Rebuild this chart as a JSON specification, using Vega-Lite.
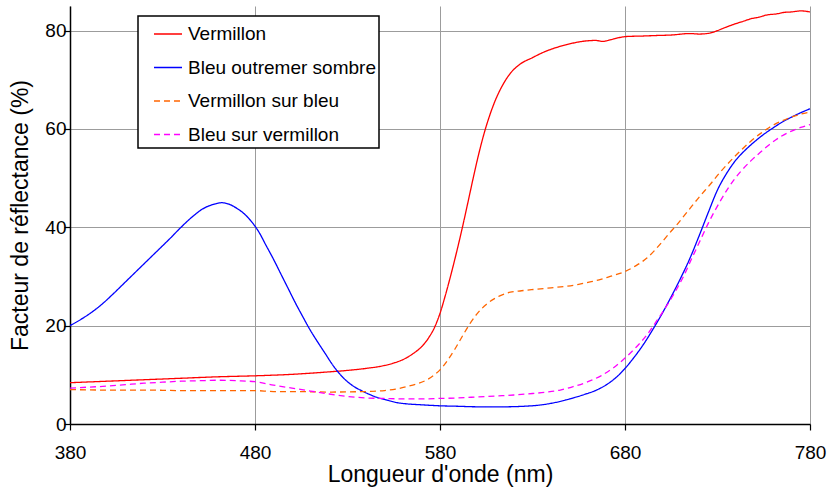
{
  "$schema": "https://vega.github.io/schema/vega-lite/v6.json",
  "width": 740,
  "height": 418,
  "autosize": {"type": "none"},
  "padding": {"left": 70, "top": 6, "right": 19, "bottom": 64},
  "background": "white",
  "config": {
    "view": {"stroke": null},
    "font": "Liberation Sans",
    "axis": {
      "labelFont": "Liberation Sans",
      "labelFontSize": 19,
      "labelColor": "black",
      "labelFlush": false,
      "titleFont": "Liberation Sans",
      "titleFontSize": 23,
      "titleFontWeight": "normal",
      "titleColor": "black",
      "domainColor": "black",
      "domainWidth": 1.5,
      "tickColor": "black",
      "tickWidth": 1.2,
      "tickSize": 6,
      "gridColor": "#9c9c9c",
      "gridWidth": 1,
      "gridOpacity": 1
    },
    "legend": {
      "orient": "none",
      "legendX": 68,
      "legendY": 10,
      "padding": 3,
      "symbolOffset": 12,
      "strokeColor": "black",
      "strokeWidth": 1.5,
      "fillColor": "white",
      "symbolType": "stroke",
      "symbolSize": 784,
      "symbolStrokeWidth": 1.5,
      "labelFont": "Liberation Sans",
      "labelFontSize": 19,
      "labelColor": "black",
      "labelLimit": 400,
      "labelOffset": 5,
      "rowPadding": 8.5
    }
  },
  "data": {
    "values": [
      {"serie":"Vermillon","lambda":380,"r":8.4},{"serie":"Vermillon","lambda":400,"r":8.7},{"serie":"Vermillon","lambda":420,"r":9.0},{"serie":"Vermillon","lambda":440,"r":9.3},{"serie":"Vermillon","lambda":460,"r":9.6},{"serie":"Vermillon","lambda":480,"r":9.8},{"serie":"Vermillon","lambda":500,"r":10.1},{"serie":"Vermillon","lambda":520,"r":10.6},{"serie":"Vermillon","lambda":530,"r":10.9},{"serie":"Vermillon","lambda":540,"r":11.3},{"serie":"Vermillon","lambda":550,"r":11.9},{"serie":"Vermillon","lambda":555,"r":12.4},{"serie":"Vermillon","lambda":560,"r":13.1},{"serie":"Vermillon","lambda":565,"r":14.2},{"serie":"Vermillon","lambda":570,"r":15.7},{"serie":"Vermillon","lambda":574,"r":17.6},{"serie":"Vermillon","lambda":577,"r":19.6},{"serie":"Vermillon","lambda":580,"r":22.5},{"serie":"Vermillon","lambda":583,"r":26.3},{"serie":"Vermillon","lambda":586,"r":30.5},{"serie":"Vermillon","lambda":589,"r":35.0},{"serie":"Vermillon","lambda":592,"r":39.8},{"serie":"Vermillon","lambda":595,"r":44.9},{"serie":"Vermillon","lambda":598,"r":50.1},{"serie":"Vermillon","lambda":601,"r":55.0},{"serie":"Vermillon","lambda":604,"r":59.3},{"serie":"Vermillon","lambda":607,"r":62.9},{"serie":"Vermillon","lambda":610,"r":65.9},{"serie":"Vermillon","lambda":614,"r":69.0},{"serie":"Vermillon","lambda":618,"r":71.3},{"serie":"Vermillon","lambda":623,"r":73.1},{"serie":"Vermillon","lambda":630,"r":74.5},{"serie":"Vermillon","lambda":636,"r":75.6},{"serie":"Vermillon","lambda":648,"r":77.1},{"serie":"Vermillon","lambda":659,"r":77.9},{"serie":"Vermillon","lambda":664,"r":78.0},{"serie":"Vermillon","lambda":668,"r":77.8},{"serie":"Vermillon","lambda":672,"r":78.1},{"serie":"Vermillon","lambda":676,"r":78.5},{"serie":"Vermillon","lambda":681,"r":78.8},{"serie":"Vermillon","lambda":690,"r":78.9},{"serie":"Vermillon","lambda":697,"r":79.0},{"serie":"Vermillon","lambda":705,"r":79.1},{"serie":"Vermillon","lambda":715,"r":79.4},{"serie":"Vermillon","lambda":720,"r":79.3},{"serie":"Vermillon","lambda":726,"r":79.5},{"serie":"Vermillon","lambda":730,"r":80.0},{"serie":"Vermillon","lambda":734,"r":80.6},{"serie":"Vermillon","lambda":739,"r":81.3},{"serie":"Vermillon","lambda":744,"r":81.9},{"serie":"Vermillon","lambda":748,"r":82.4},{"serie":"Vermillon","lambda":752,"r":82.7},{"serie":"Vermillon","lambda":757,"r":83.2},{"serie":"Vermillon","lambda":762,"r":83.4},{"serie":"Vermillon","lambda":766,"r":83.7},{"serie":"Vermillon","lambda":770,"r":83.8},{"serie":"Vermillon","lambda":775,"r":84.0},{"serie":"Vermillon","lambda":780,"r":83.8},
      {"serie":"Bleu outremer sombre","lambda":380,"r":20.0},{"serie":"Bleu outremer sombre","lambda":386,"r":21.3},{"serie":"Bleu outremer sombre","lambda":392,"r":22.8},{"serie":"Bleu outremer sombre","lambda":398,"r":24.6},{"serie":"Bleu outremer sombre","lambda":404,"r":26.7},{"serie":"Bleu outremer sombre","lambda":410,"r":28.9},{"serie":"Bleu outremer sombre","lambda":416,"r":31.1},{"serie":"Bleu outremer sombre","lambda":422,"r":33.3},{"serie":"Bleu outremer sombre","lambda":428,"r":35.5},{"serie":"Bleu outremer sombre","lambda":434,"r":37.7},{"serie":"Bleu outremer sombre","lambda":440,"r":40.0},{"serie":"Bleu outremer sombre","lambda":446,"r":42.1},{"serie":"Bleu outremer sombre","lambda":452,"r":43.8},{"serie":"Bleu outremer sombre","lambda":457,"r":44.6},{"serie":"Bleu outremer sombre","lambda":462,"r":45.0},{"serie":"Bleu outremer sombre","lambda":466,"r":44.7},{"serie":"Bleu outremer sombre","lambda":470,"r":43.9},{"serie":"Bleu outremer sombre","lambda":474,"r":42.8},{"serie":"Bleu outremer sombre","lambda":478,"r":41.2},{"serie":"Bleu outremer sombre","lambda":482,"r":39.1},{"serie":"Bleu outremer sombre","lambda":486,"r":36.3},{"serie":"Bleu outremer sombre","lambda":490,"r":33.5},{"serie":"Bleu outremer sombre","lambda":494,"r":30.5},{"serie":"Bleu outremer sombre","lambda":498,"r":27.5},{"serie":"Bleu outremer sombre","lambda":502,"r":24.5},{"serie":"Bleu outremer sombre","lambda":506,"r":21.7},{"serie":"Bleu outremer sombre","lambda":510,"r":19.0},{"serie":"Bleu outremer sombre","lambda":514,"r":16.6},{"serie":"Bleu outremer sombre","lambda":518,"r":14.3},{"serie":"Bleu outremer sombre","lambda":522,"r":12.0},{"serie":"Bleu outremer sombre","lambda":526,"r":10.1},{"serie":"Bleu outremer sombre","lambda":530,"r":8.6},{"serie":"Bleu outremer sombre","lambda":534,"r":7.5},{"serie":"Bleu outremer sombre","lambda":538,"r":6.7},{"serie":"Bleu outremer sombre","lambda":542,"r":6.0},{"serie":"Bleu outremer sombre","lambda":546,"r":5.4},{"serie":"Bleu outremer sombre","lambda":550,"r":5.0},{"serie":"Bleu outremer sombre","lambda":556,"r":4.4},{"serie":"Bleu outremer sombre","lambda":562,"r":4.1},{"serie":"Bleu outremer sombre","lambda":570,"r":3.9},{"serie":"Bleu outremer sombre","lambda":580,"r":3.7},{"serie":"Bleu outremer sombre","lambda":590,"r":3.6},{"serie":"Bleu outremer sombre","lambda":600,"r":3.5},{"serie":"Bleu outremer sombre","lambda":615,"r":3.5},{"serie":"Bleu outremer sombre","lambda":625,"r":3.6},{"serie":"Bleu outremer sombre","lambda":635,"r":3.9},{"serie":"Bleu outremer sombre","lambda":645,"r":4.6},{"serie":"Bleu outremer sombre","lambda":652,"r":5.3},{"serie":"Bleu outremer sombre","lambda":658,"r":6.0},{"serie":"Bleu outremer sombre","lambda":664,"r":6.8},{"serie":"Bleu outremer sombre","lambda":670,"r":8.0},{"serie":"Bleu outremer sombre","lambda":675,"r":9.4},{"serie":"Bleu outremer sombre","lambda":680,"r":11.3},{"serie":"Bleu outremer sombre","lambda":685,"r":13.6},{"serie":"Bleu outremer sombre","lambda":690,"r":16.2},{"serie":"Bleu outremer sombre","lambda":695,"r":19.2},{"serie":"Bleu outremer sombre","lambda":700,"r":22.4},{"serie":"Bleu outremer sombre","lambda":705,"r":25.9},{"serie":"Bleu outremer sombre","lambda":710,"r":29.6},{"serie":"Bleu outremer sombre","lambda":715,"r":33.6},{"serie":"Bleu outremer sombre","lambda":720,"r":38.2},{"serie":"Bleu outremer sombre","lambda":725,"r":43.0},{"serie":"Bleu outremer sombre","lambda":730,"r":47.6},{"serie":"Bleu outremer sombre","lambda":735,"r":51.0},{"serie":"Bleu outremer sombre","lambda":740,"r":53.7},{"serie":"Bleu outremer sombre","lambda":745,"r":55.7},{"serie":"Bleu outremer sombre","lambda":750,"r":57.4},{"serie":"Bleu outremer sombre","lambda":755,"r":58.9},{"serie":"Bleu outremer sombre","lambda":760,"r":60.2},{"serie":"Bleu outremer sombre","lambda":765,"r":61.4},{"serie":"Bleu outremer sombre","lambda":770,"r":62.4},{"serie":"Bleu outremer sombre","lambda":775,"r":63.3},{"serie":"Bleu outremer sombre","lambda":780,"r":64.1},
      {"serie":"Vermillon sur bleu","lambda":380,"r":7.0},{"serie":"Vermillon sur bleu","lambda":400,"r":6.9},{"serie":"Vermillon sur bleu","lambda":420,"r":6.9},{"serie":"Vermillon sur bleu","lambda":440,"r":6.8},{"serie":"Vermillon sur bleu","lambda":460,"r":6.8},{"serie":"Vermillon sur bleu","lambda":480,"r":6.8},{"serie":"Vermillon sur bleu","lambda":490,"r":6.6},{"serie":"Vermillon sur bleu","lambda":500,"r":6.6},{"serie":"Vermillon sur bleu","lambda":520,"r":6.5},{"serie":"Vermillon sur bleu","lambda":540,"r":6.6},{"serie":"Vermillon sur bleu","lambda":550,"r":6.8},{"serie":"Vermillon sur bleu","lambda":556,"r":7.1},{"serie":"Vermillon sur bleu","lambda":562,"r":7.6},{"serie":"Vermillon sur bleu","lambda":568,"r":8.2},{"serie":"Vermillon sur bleu","lambda":573,"r":9.0},{"serie":"Vermillon sur bleu","lambda":577,"r":10.0},{"serie":"Vermillon sur bleu","lambda":580,"r":11.0},{"serie":"Vermillon sur bleu","lambda":584,"r":12.9},{"serie":"Vermillon sur bleu","lambda":588,"r":15.2},{"serie":"Vermillon sur bleu","lambda":592,"r":17.8},{"serie":"Vermillon sur bleu","lambda":596,"r":20.3},{"serie":"Vermillon sur bleu","lambda":600,"r":22.4},{"serie":"Vermillon sur bleu","lambda":605,"r":24.3},{"serie":"Vermillon sur bleu","lambda":612,"r":26.0},{"serie":"Vermillon sur bleu","lambda":618,"r":26.8},{"serie":"Vermillon sur bleu","lambda":624,"r":27.1},{"serie":"Vermillon sur bleu","lambda":632,"r":27.4},{"serie":"Vermillon sur bleu","lambda":640,"r":27.7},{"serie":"Vermillon sur bleu","lambda":648,"r":28.0},{"serie":"Vermillon sur bleu","lambda":655,"r":28.4},{"serie":"Vermillon sur bleu","lambda":660,"r":28.8},{"serie":"Vermillon sur bleu","lambda":666,"r":29.3},{"serie":"Vermillon sur bleu","lambda":672,"r":30.0},{"serie":"Vermillon sur bleu","lambda":680,"r":31.0},{"serie":"Vermillon sur bleu","lambda":686,"r":32.2},{"serie":"Vermillon sur bleu","lambda":692,"r":33.8},{"serie":"Vermillon sur bleu","lambda":696,"r":35.3},{"serie":"Vermillon sur bleu","lambda":700,"r":37.0},{"serie":"Vermillon sur bleu","lambda":704,"r":38.8},{"serie":"Vermillon sur bleu","lambda":708,"r":40.5},{"serie":"Vermillon sur bleu","lambda":714,"r":43.3},{"serie":"Vermillon sur bleu","lambda":720,"r":46.1},{"serie":"Vermillon sur bleu","lambda":726,"r":48.7},{"serie":"Vermillon sur bleu","lambda":731,"r":51.0},{"serie":"Vermillon sur bleu","lambda":737,"r":53.5},{"serie":"Vermillon sur bleu","lambda":742,"r":55.4},{"serie":"Vermillon sur bleu","lambda":748,"r":57.5},{"serie":"Vermillon sur bleu","lambda":753,"r":59.0},{"serie":"Vermillon sur bleu","lambda":758,"r":60.3},{"serie":"Vermillon sur bleu","lambda":764,"r":61.5},{"serie":"Vermillon sur bleu","lambda":770,"r":62.4},{"serie":"Vermillon sur bleu","lambda":775,"r":63.0},{"serie":"Vermillon sur bleu","lambda":780,"r":63.4},
      {"serie":"Bleu sur vermillon","lambda":380,"r":7.3},{"serie":"Bleu sur vermillon","lambda":390,"r":7.5},{"serie":"Bleu sur vermillon","lambda":400,"r":7.7},{"serie":"Bleu sur vermillon","lambda":410,"r":8.0},{"serie":"Bleu sur vermillon","lambda":420,"r":8.3},{"serie":"Bleu sur vermillon","lambda":430,"r":8.5},{"serie":"Bleu sur vermillon","lambda":440,"r":8.7},{"serie":"Bleu sur vermillon","lambda":450,"r":8.8},{"serie":"Bleu sur vermillon","lambda":460,"r":8.9},{"serie":"Bleu sur vermillon","lambda":470,"r":8.8},{"serie":"Bleu sur vermillon","lambda":480,"r":8.6},{"serie":"Bleu sur vermillon","lambda":490,"r":7.9},{"serie":"Bleu sur vermillon","lambda":500,"r":7.3},{"serie":"Bleu sur vermillon","lambda":510,"r":6.7},{"serie":"Bleu sur vermillon","lambda":520,"r":6.1},{"serie":"Bleu sur vermillon","lambda":530,"r":5.6},{"serie":"Bleu sur vermillon","lambda":540,"r":5.3},{"serie":"Bleu sur vermillon","lambda":550,"r":5.2},{"serie":"Bleu sur vermillon","lambda":560,"r":5.1},{"serie":"Bleu sur vermillon","lambda":570,"r":5.1},{"serie":"Bleu sur vermillon","lambda":580,"r":5.2},{"serie":"Bleu sur vermillon","lambda":590,"r":5.3},{"serie":"Bleu sur vermillon","lambda":600,"r":5.5},{"serie":"Bleu sur vermillon","lambda":610,"r":5.7},{"serie":"Bleu sur vermillon","lambda":620,"r":5.9},{"serie":"Bleu sur vermillon","lambda":630,"r":6.2},{"serie":"Bleu sur vermillon","lambda":638,"r":6.5},{"serie":"Bleu sur vermillon","lambda":645,"r":6.9},{"serie":"Bleu sur vermillon","lambda":652,"r":7.6},{"serie":"Bleu sur vermillon","lambda":660,"r":8.6},{"serie":"Bleu sur vermillon","lambda":667,"r":9.8},{"serie":"Bleu sur vermillon","lambda":674,"r":11.5},{"serie":"Bleu sur vermillon","lambda":680,"r":13.4},{"serie":"Bleu sur vermillon","lambda":686,"r":15.6},{"serie":"Bleu sur vermillon","lambda":692,"r":18.2},{"serie":"Bleu sur vermillon","lambda":697,"r":20.9},{"serie":"Bleu sur vermillon","lambda":703,"r":24.3},{"serie":"Bleu sur vermillon","lambda":707,"r":26.8},{"serie":"Bleu sur vermillon","lambda":712,"r":30.3},{"serie":"Bleu sur vermillon","lambda":716,"r":33.6},{"serie":"Bleu sur vermillon","lambda":720,"r":36.8},{"serie":"Bleu sur vermillon","lambda":725,"r":40.8},{"serie":"Bleu sur vermillon","lambda":731,"r":45.0},{"serie":"Bleu sur vermillon","lambda":736,"r":48.1},{"serie":"Bleu sur vermillon","lambda":742,"r":51.1},{"serie":"Bleu sur vermillon","lambda":748,"r":53.5},{"serie":"Bleu sur vermillon","lambda":753,"r":55.2},{"serie":"Bleu sur vermillon","lambda":758,"r":56.8},{"serie":"Bleu sur vermillon","lambda":764,"r":58.4},{"serie":"Bleu sur vermillon","lambda":769,"r":59.4},{"serie":"Bleu sur vermillon","lambda":775,"r":60.3},{"serie":"Bleu sur vermillon","lambda":780,"r":60.9}
    ]
  },
  "mark": {"type": "line", "strokeWidth": 1.3, "interpolate": "monotone"},
  "encoding": {
    "x": {
      "field": "lambda",
      "type": "quantitative",
      "scale": {"domain": [380, 780], "nice": false, "zero": false},
      "axis": {"values": [380, 480, 580, 680, 780], "title": "Longueur d'onde (nm)", "labelPadding": 13, "titlePadding": 1}
    },
    "y": {
      "field": "r",
      "type": "quantitative",
      "scale": {"domain": [0, 85], "nice": false},
      "axis": {"values": [0, 20, 40, 60, 80], "title": "Facteur de réflectance (%)", "labelPadding": -2, "titlePadding": 12}
    },
    "color": {
      "field": "serie",
      "type": "nominal",
      "scale": {
        "domain": ["Vermillon", "Bleu outremer sombre", "Vermillon sur bleu", "Bleu sur vermillon"],
        "range": ["#FF0000", "#0000FF", "#FF6600", "#FF00FF"]
      },
      "legend": {"title": null}
    },
    "strokeDash": {
      "field": "serie",
      "type": "nominal",
      "scale": {
        "domain": ["Vermillon", "Bleu outremer sombre", "Vermillon sur bleu", "Bleu sur vermillon"],
        "range": [[1, 0], [1, 0], [6, 4], [6, 4]]
      },
      "legend": {"title": null}
    }
  }
}
